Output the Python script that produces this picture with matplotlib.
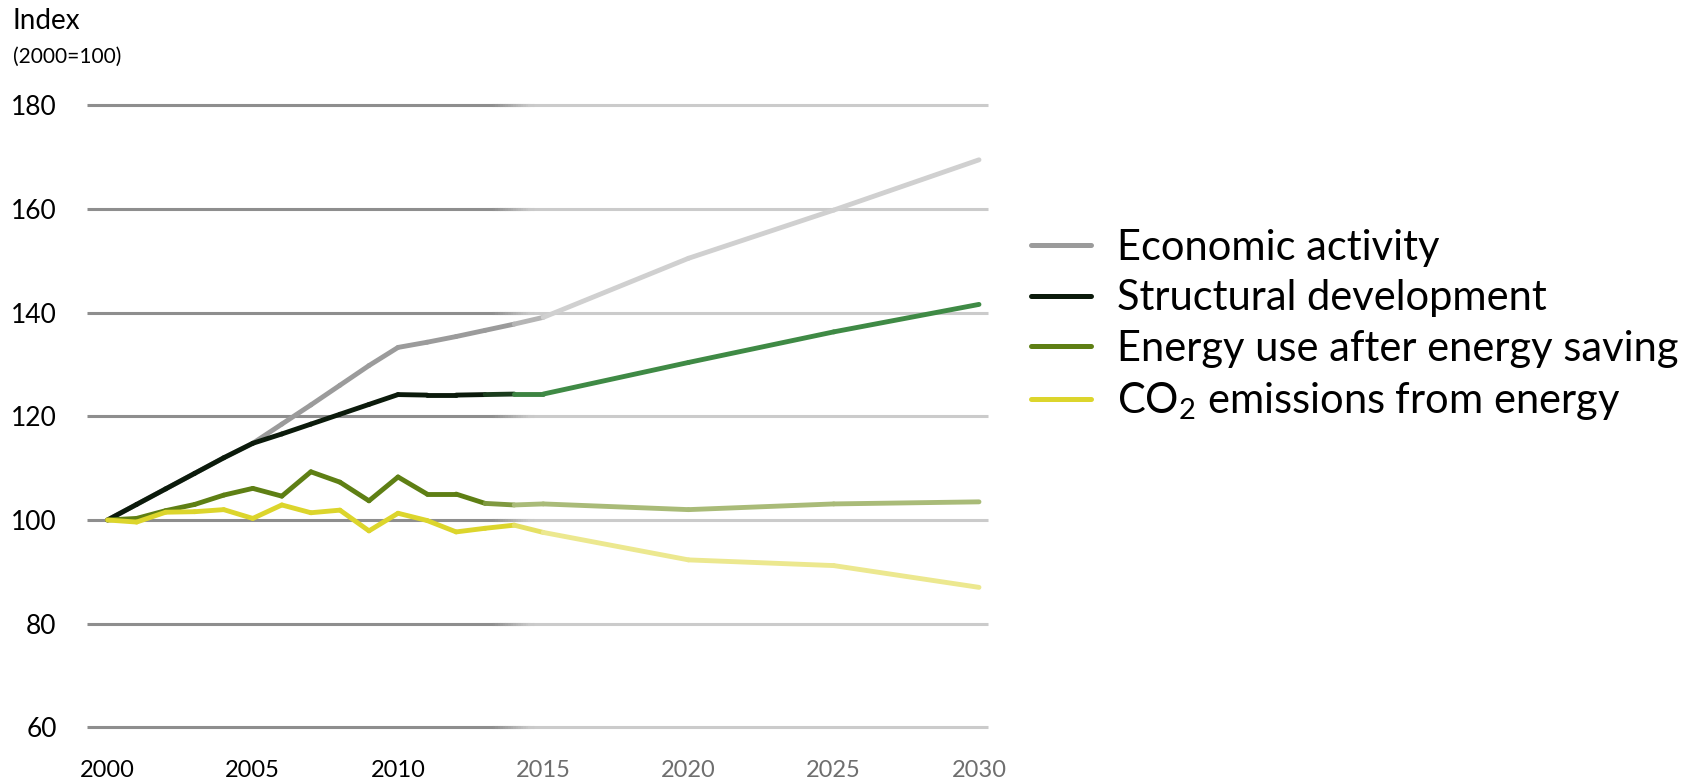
import numpy as np
import matplotlib
matplotlib.use("Agg")
import matplotlib.pyplot as plt
from matplotlib.collections import LineCollection
from matplotlib.colors import to_rgb
from matplotlib.lines import Line2D

plt.rcParams["font.family"] = ["Lato", "DejaVu Sans"]
plt.rcParams["mathtext.fontset"] = "custom"
plt.rcParams["mathtext.rm"] = "Lato"
plt.rcParams["mathtext.default"] = "regular"

# Index, 2000 = 100. Annual history to 2014, then projections every five years
years = [2000, 2001, 2002, 2003, 2004, 2005, 2006, 2007, 2008, 2009,
         2010, 2011, 2012, 2013, 2014, 2015, 2020, 2025, 2030]

economic = [100, 103.0, 106.0, 109.0, 112.0, 114.8, 118.5, 122.2, 126.0, 129.8,
            133.3, 134.3, 135.4, 136.6, 137.8, 139.1, 150.5, 159.8, 169.5]
structural = [100, 103.0, 106.0, 109.0, 112.0, 114.8, 116.6, 118.5, 120.4, 122.3,
              124.2, 124.1, 124.1, 124.2, 124.3, 124.3, 130.4, 136.3, 141.6]
energy = [100, 100.3, 101.8, 103.0, 104.8, 106.1, 104.6, 109.3, 107.3, 103.7,
          108.3, 105.0, 105.0, 103.2, 102.9, 103.1, 102.0, 103.1, 103.5]
co2 = [100, 99.6, 101.5, 101.6, 102.0, 100.3, 102.9, 101.4, 101.9, 97.9,
       101.3, 99.9, 97.7, 98.4, 99.0, 97.6, 92.3, 91.2, 87.0]

labels = ["Economic activity", "Structural development",
          "Energy use after energy saving", "CO$_2$ emissions from energy"]

y_ticks = [60, 80, 100, 120, 140, 160, 180]
x_ticks = [2000, 2005, 2010, 2015, 2020, 2025, 2030]

# (history colour, projection colour, fade start, fade end)
styles = [
    ("#9b9b9b", "#d0d0d0", 2013.6, 2015.4),
    ("#0b1a0b", "#3f8a45", 2013.0, 2014.6),
    ("#5e7f14", "#a9bb78", 2012.8, 2014.4),
    ("#dcd52c", "#ece88f", 2013.6, 2015.2),
]


def ramp(x, c0, c1, x0, x1):
    f = np.clip((np.asarray(x) - x0) / (x1 - x0), 0, 1)[:, None]
    return (1 - f) * np.array(to_rgb(c0)) + f * np.array(to_rgb(c1))


fig = plt.figure(figsize=(16.87, 7.84), dpi=100)
ax = fig.add_axes([0.0517, 0.0393, 0.5355, 0.8593])
ax.set_xlim(1999.3, 2030.4)
ax.set_ylim(55, 185)

# gridlines: dark over the history, light over the projection, short fade between
g_left, g_right, g_f0, g_f1 = 1999.3, 2030.3, 2013.3, 2014.6
g_dark, g_light = "#8e8e8e", "#cbcbcb"
gx = np.linspace(g_f0, g_f1, 16)
for yv in y_ticks:
    ax.plot([g_left, g_f0], [yv, yv], color=g_dark, lw=2.2,
            solid_capstyle="butt", zorder=1)
    ax.plot([g_f1, g_right], [yv, yv], color=g_light, lw=2.2,
            solid_capstyle="butt", zorder=1)
    pts = np.column_stack([gx, np.full_like(gx, yv)])
    segs = np.stack([pts[:-1], pts[1:]], axis=1)
    cols = ramp((gx[:-1] + gx[1:]) / 2, g_dark, g_light, g_f0, g_f1)
    ax.add_collection(LineCollection(segs, colors=cols, linewidths=2.2,
                                     capstyle="projecting", zorder=1))

x = np.array(years, dtype=float)
for series, (c0, c1, f0, f1) in zip([economic, structural, energy, co2], styles):
    y = np.array(series, dtype=float)
    pts = np.column_stack([x, y])
    segs = np.stack([pts[:-1], pts[1:]], axis=1)
    cols = ramp((x[:-1] + x[1:]) / 2, c0, c1, f0, f1)
    ax.add_collection(LineCollection(segs, colors=cols, linewidths=3.5,
                                     capstyle="round", joinstyle="round",
                                     zorder=3))

for s in ax.spines.values():
    s.set_visible(False)
ax.set_yticks(y_ticks)
ax.set_xticks(x_ticks)
ax.tick_params(axis="y", length=0, pad=22, labelsize=19)
ax.tick_params(axis="x", length=0, pad=5, labelsize=17)
for lbl in ax.get_xticklabels():
    if int(lbl.get_text()) > 2010:
        lbl.set_color("#6e6e6e")

fig.text(0.0077, 0.99, "Index", fontsize=20, va="top", ha="left")
fig.text(0.0077, 0.94, "(2000=100)", fontsize=15, va="top", ha="left")

handles = [Line2D([], [], color=c0, lw=3.6, solid_capstyle="round")
           for c0, _, _, _ in styles]
fig.legend(handles, labels, loc="upper left", bbox_to_anchor=(0.611, 0.708),
           frameon=False, fontsize=30, handlelength=1.45, handletextpad=0.62,
           labelspacing=0.3, borderpad=0, borderaxespad=0)

fig.savefig("out.png", dpi=100, facecolor="white")
